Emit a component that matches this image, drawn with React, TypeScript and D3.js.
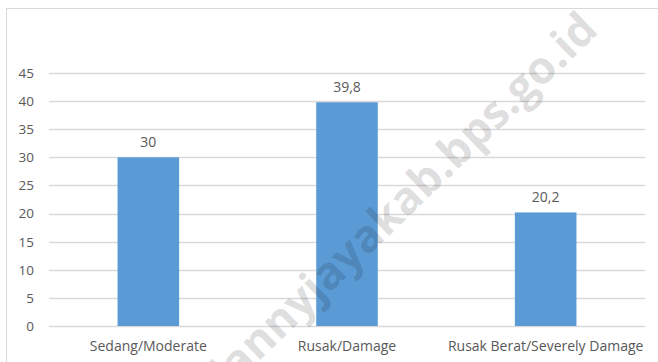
import React from "react";
import * as d3 from "d3";

const categories = ["Sedang/Moderate", "Rusak/Damage", "Rusak Berat/Severely Damage"];
const values = [30, 39.8, 20.2];
const valueLabels = ["30", "39,8", "20,2"];
const yTicks = [0, 5, 10, 15, 20, 25, 30, 35, 40, 45];
const watermark = "lannyjayakab.bps.go.id";

const W = 658;
const H = 362;
const plot = { left: 49, right: 645, top: 73, bottom: 326 };
const FONT = "'Open Sans', sans-serif";
const TEXT = "#595959";

export default function App() {
  const x = d3
    .scaleBand<string>()
    .domain(categories)
    .range([plot.left, plot.right])
    .paddingInner(0.69)
    .paddingOuter(0.345);
  const y = d3.scaleLinear().domain([0, 45]).range([plot.bottom, plot.top]);

  return (
    <svg
      width={W}
      height={H}
      style={{ position: "absolute", left: 0, top: 0, background: "#fff" }}
    >
      <rect x={6.5} y={8.5} width={W + 10} height={H + 10} fill="#fff" stroke="#d9d9d9" />
      {yTicks.map((t) => (
        <g key={t}>
          <line
            x1={plot.left}
            x2={plot.right}
            y1={Math.round(y(t)) + 0.5}
            y2={Math.round(y(t)) + 0.5}
            stroke="#d9d9d9"
            strokeWidth={1.3}
          />
          <text
            x={34}
            y={y(t)}
            dy="0.36em"
            textAnchor="end"
            fontFamily={FONT}
            fontSize={13.5}
            fill={TEXT}
          >
            {t}
          </text>
        </g>
      ))}
      {categories.map((c, i) => (
        <g key={c}>
          <rect
            x={x(c)}
            y={y(values[i])}
            width={x.bandwidth()}
            height={y(0) - y(values[i])}
            fill="#5b9bd5"
          />
          <text
            x={(x(c) ?? 0) + x.bandwidth() / 2}
            y={y(values[i]) - 10}
            textAnchor="middle"
            fontFamily={FONT}
            fontSize={14}
            fill={TEXT}
          >
            {valueLabels[i]}
          </text>
          <text
            x={(x(c) ?? 0) + x.bandwidth() / 2}
            y={351}
            textAnchor="middle"
            fontFamily={FONT}
            fontSize={14}
            fill={TEXT}
          >
            {c}
          </text>
        </g>
      ))}
      <text
        transform="translate(600,32) rotate(-44)"
        textAnchor="end"
        fontFamily={FONT}
        fontWeight={700}
        fontSize={45}
        fill="#000"
        fillOpacity={0.14}
      >
        {watermark}
      </text>
    </svg>
  );
}
